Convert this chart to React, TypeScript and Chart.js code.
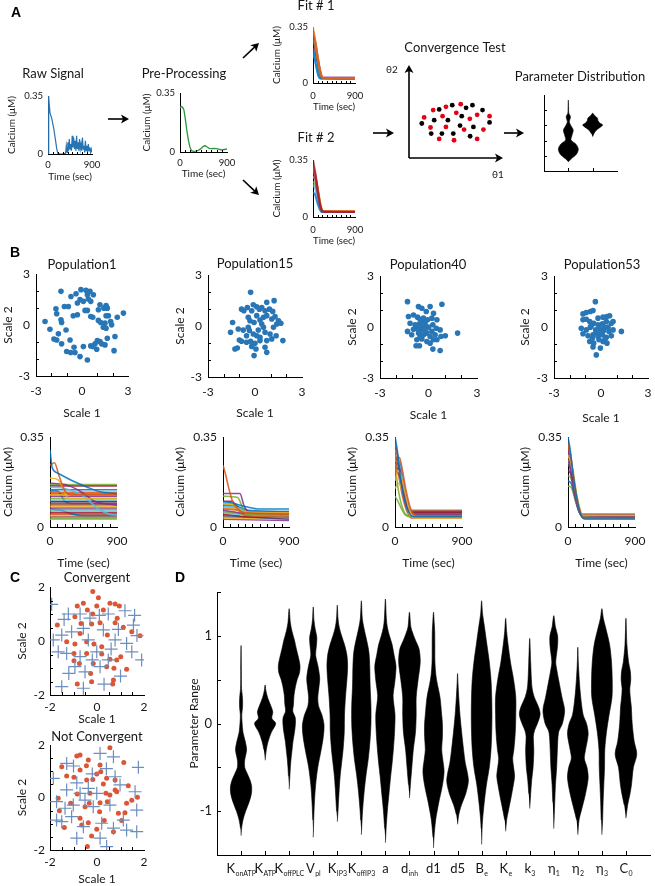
import React, { useEffect, useMemo, useRef } from 'react';
import { Chart, registerables } from 'chart.js';

Chart.register(...registerables);

const FONT = 'Lato, "Noto Sans", "DejaVu Sans", sans-serif';
const INK = '#161616';
const PALETTE = ['#0072BD', '#D95319', '#EDB120', '#7E2F8E', '#77AC30', '#4DBEEE', '#A2142F'];

// ---------------- Panel A data ----------------
const rawTime = [0, 8, 20, 40, 60, 80, 100, 120, 140, 160, 180, 200, 240, 300, 360, 375, 390, 405, 420, 435, 450, 465, 480, 495, 510, 525, 540, 555, 570, 585, 600, 615, 630, 645, 660, 675, 690, 705, 720, 735, 750, 765, 780, 795, 810, 825, 840, 855, 870, 885, 900];
const rawCalcium = [0.0, 0.35, 0.34, 0.25, 0.23, 0.21, 0.18, 0.15, 0.11, 0.07, 0.03, 0.005, 0, 0, 0.005, 0.05, 0.01, 0.07, 0.02, 0.09, 0.03, 0.06, 0.02, 0.11, 0.04, 0.10, 0.03, 0.08, 0.02, 0.11, 0.03, 0.07, 0.02, 0.09, 0.03, 0.06, 0.02, 0.10, 0.03, 0.05, 0.01, 0.08, 0.02, 0.05, 0.01, 0.06, 0.02, 0.04, 0.01, 0.03, 0.01];
const preTime = [0, 20, 50, 75, 100, 130, 160, 190, 220, 260, 300, 350, 400, 440, 480, 520, 560, 600, 650, 700, 800, 900];
const preCalcium = [0.26, 0.27, 0.265, 0.25, 0.2, 0.13, 0.07, 0.03, 0.008, 0.004, 0.005, 0.01, 0.02, 0.032, 0.038, 0.03, 0.022, 0.02, 0.022, 0.02, 0.012, 0.018];

const fit1Runs = [
  [[0, 0.33], [50, 0.26], [100, 0.16], [150, 0.08], [200, 0.035], [250, 0.03], [900, 0.03]],
  [[0, 0.35], [40, 0.28], [90, 0.18], [140, 0.09], [190, 0.04], [240, 0.03], [900, 0.03]],
  [[0, 0.3], [60, 0.24], [110, 0.15], [160, 0.07], [210, 0.035], [900, 0.035]],
  [[0, 0.2], [30, 0.16], [70, 0.1], [110, 0.05], [150, 0.03], [900, 0.025]],
  [[0, 0.18], [40, 0.15], [80, 0.09], [120, 0.04], [160, 0.025], [900, 0.025]],
  [[0, 0.28], [60, 0.22], [120, 0.12], [170, 0.05], [220, 0.03], [900, 0.03]],
  [[0, 0.26], [50, 0.21], [110, 0.12], [160, 0.05], [210, 0.03], [900, 0.03]],
  [[0, 0.22], [40, 0.18], [90, 0.11], [130, 0.05], [170, 0.03], [900, 0.03]],
];
const fit1Colors = ['#D95319', '#EDB120', '#7E2F8E', '#0072BD', '#4DBEEE', '#77AC30', '#A2142F', '#0072BD'];
const fit2Runs = [
  [[0, 0.35], [50, 0.27], [100, 0.17], [150, 0.08], [200, 0.035], [250, 0.03], [900, 0.03]],
  [[0, 0.3], [60, 0.24], [120, 0.14], [170, 0.06], [220, 0.035], [900, 0.035]],
  [[0, 0.28], [50, 0.23], [100, 0.14], [150, 0.07], [200, 0.035], [900, 0.03]],
  [[0, 0.25], [60, 0.22], [120, 0.14], [180, 0.06], [230, 0.035], [900, 0.035]],
  [[0, 0.15], [40, 0.14], [90, 0.09], [140, 0.05], [180, 0.03], [900, 0.03]],
  [[0, 0.22], [60, 0.19], [120, 0.12], [170, 0.06], [220, 0.03], [900, 0.03]],
  [[0, 0.2], [50, 0.17], [100, 0.1], [150, 0.05], [190, 0.03], [900, 0.03]],
  [[0, 0.32], [50, 0.26], [110, 0.16], [160, 0.07], [210, 0.035], [900, 0.035]],
];
const fit2Colors = ['#A2142F', '#D95319', '#7E2F8E', '#EDB120', '#0072BD', '#77AC30', '#4DBEEE', '#D95319'];

const convRed = [[2.57, 5.15], [3.93, 5.5], [5.5, 5.79], [1.61, 4.36], [3.57, 4.5], [5.03, 4.86], [6.47, 4.21], [7.25, 4.64], [8.57, 4.5], [2.29, 3.28], [3.93, 3.34], [5.86, 3.06], [7.92, 3.06], [3.21, 2.05], [4.79, 1.91], [7.25, 2.05]];
const convBlack = [[3.21, 5.22], [4.6, 5.68], [6.07, 5.39], [6.75, 5.68], [7.82, 5.15], [2.68, 4.07], [4.14, 4.07], [5.61, 4.5], [1.36, 3.71], [5.43, 3.49], [6.85, 3.34], [8.57, 3.82], [2.36, 2.63], [3.5, 2.63], [4.71, 2.63], [6.5, 2.34]];

const distViolinA = [[0.6, 0], [0.8, 0.12], [1.1, 0.33], [1.43, 0.41], [1.75, 0.32], [2.04, 0.11], [2.3, 0.14], [2.7, 0.2], [3.0, 0.1], [3.24, 0.04], [3.57, 0.09], [3.8, 0.02], [4.2, 0.01], [4.67, 0]];
const distViolinB = [[2.26, 0], [2.45, 0.05], [2.7, 0.16], [2.9, 0.33], [3.03, 0.41], [3.15, 0.3], [3.3, 0.22], [3.47, 0.2], [3.65, 0.08], [3.8, 0]];

// ---------------- Panel B data ----------------
const pop1Points = [[-1.37, 1.98], [-0.07, 2.08], [0.26, 2.04], [0.52, 1.98], [0.35, 1.78], [0.74, 1.78], [-0.72, 1.68], [-0.39, 1.84], [-0.13, 1.49], [-0.3, 1.29], [0.09, 1.39], [0.41, 1.53], [0.57, 1.39], [-0.89, 1.09], [-1.15, 1.09], [-1.7, 0.95], [1.17, 1.19], [1.57, 1.15], [1.43, 0.99], [1.65, 0.99], [0.2, 0.86], [0.35, 0.86], [1.07, 0.9], [-1.65, 0.66], [-0.57, 0.54], [-0.3, 0.6], [0.57, 0.5], [0.7, 0.46], [1.57, 0.54], [1.72, 0.54], [2.7, 0.7], [2.3, 0.46], [-2.41, 0.21], [-1.37, 0.31], [-1.33, 0.15], [1.07, 0.27], [1.22, 0.15], [1.5, 0.11], [1.87, 0.21], [1.93, 0.01], [1.39, -0.13], [1.57, -0.19], [-2.09, -0.25], [-1.04, -0.29], [-1.54, -0.52], [2.15, -0.68], [-1.83, -0.82], [-1.65, -0.88], [-0.78, -0.88], [1.65, -0.78], [1.0, -0.92], [1.17, -0.97], [0.85, -1.11], [1.28, -1.11], [1.5, -1.17], [-1.33, -1.11], [-0.52, -1.31], [0.09, -1.27], [0.57, -1.23], [0.96, -1.43], [0.7, -1.27], [2.09, -1.51], [-1.0, -1.56], [-0.74, -1.62], [-0.46, -1.62], [-0.13, -1.86], [0.35, -2.06]];
const pop15Points = [[-0.28, 1.98], [0.75, 1.39], [1.22, 1.49], [-0.86, 0.99], [-0.71, 0.9], [-0.49, 1.09], [-0.11, 1.25], [0.11, 1.13], [0.43, 1.09], [0.28, 0.99], [0.64, 0.9], [0.92, 0.99], [1.13, 0.86], [-0.21, 0.9], [-1.43, 0.21], [-1.07, -0.18], [-1.56, -0.37], [-0.43, 0.51], [-0.32, 0.31], [0.11, 0.61], [-0.06, 0.21], [0.32, 0.35], [0.54, 0.51], [0.75, 0.61], [1.07, 0.41], [1.28, 0.55], [1.5, 0.31], [1.65, 0.16], [1.39, 0.12], [1.18, -0.08], [-0.75, -0.24], [-0.36, -0.27], [0.21, -0.24], [0.54, -0.08], [0.64, -0.37], [0.96, -0.47], [1.35, -0.57], [0.32, -0.67], [-1.0, -0.82], [-0.86, -0.9], [-0.54, -0.96], [-0.28, -0.9], [0, -1.02], [0.75, -0.86], [1.07, -0.76], [1.78, -0.86], [-1.28, -1.35], [-1.13, -1.29], [-0.21, -1.2], [0.06, -1.35], [0.64, -1.25], [0.75, -1.55], [-0.06, -1.74], [0.32, -0.86], [-0.43, -0.08], [-0.11, -0.47], [-0.54, -0.57], [0.11, -0.57], [0.43, 0.12]];
const pop40Points = [[-1.3, 1.49], [0.83, 1.34], [-0.62, 1.2], [-0.41, 1.1], [0.1, 1.2], [-0.14, 0.91], [0.31, 0.81], [-1.24, 0.62], [-0.93, 0.71], [-0.68, 0.58], [-0.52, 0.46], [-0.31, 0.52], [-0.06, 0.42], [0.21, 0.52], [0.52, 0.42], [-1.14, 0.22], [-0.83, 0.13], [-0.56, 0.19], [-0.41, -0.01], [-0.21, 0.07], [0, -0.01], [0.27, 0.13], [0.48, -0.07], [0.72, -0.17], [-1.3, -0.26], [-1.04, -0.46], [-0.62, -0.36], [-0.31, -0.46], [-0.14, -0.32], [0.1, -0.56], [0.41, -0.46], [0.77, -0.56], [1.04, -0.52], [1.8, -0.36], [-0.72, -0.75], [-0.41, -0.71], [-0.1, -0.85], [-0.77, -1.1], [-0.56, -1.1], [0.1, -0.95], [0.52, -0.75], [0.27, -1.3], [0.72, -1.38], [-0.93, -0.13], [-0.72, -0.07], [-0.52, -0.2], [-0.27, -0.17], [-0.1, -0.36], [0.21, -0.26], [-0.41, 0.32], [-0.21, 0.26], [-0.52, -0.56], [0.31, -0.75]];
const pop53Points = [[-0.36, 1.49], [-1.15, 0.77], [-0.94, 0.85], [-0.68, 0.91], [-0.51, 0.97], [-0.19, 0.52], [0.13, 0.58], [0.38, 0.62], [0.55, 0.66], [0.77, 0.32], [-1.15, 0.42], [-0.94, 0.46], [-0.72, 0.32], [-0.47, 0.22], [-0.19, 0.13], [0.09, 0.19], [0.34, 0.32], [0.66, 0.22], [0.45, -0.01], [-1.26, -0.07], [-0.94, -0.17], [-0.68, -0.01], [-0.34, -0.17], [-0.09, -0.07], [0.17, -0.21], [0.51, -0.26], [0.77, -0.17], [1.3, -0.26], [-1.15, -0.4], [-0.83, -0.52], [-0.51, -0.46], [-0.19, -0.56], [0.09, -0.46], [0.34, -0.6], [0.66, -0.52], [-0.72, -0.85], [-0.47, -0.95], [-0.13, -0.75], [0.13, -0.85], [0.38, -0.95], [-0.51, -1.18], [-0.04, -1.24], [-0.3, -1.64], [-0.62, 0.07], [-0.3, -0.32], [0.02, -0.36], [0.23, -0.01], [-0.55, -0.66], [0.26, -0.71]];

const pop1Traces = [
  [[0, 0.30], [30, 0.23], [100, 0.21], [300, 0.18], [500, 0.155], [700, 0.135], [900, 0.13]],
  [[0, 0.24], [60, 0.25], [120, 0.2], [200, 0.14], [300, 0.125], [900, 0.125]],
  [[0, 0.19], [100, 0.185], [180, 0.15], [250, 0.11], [900, 0.11]],
  [[0, 0.17], [200, 0.165], [400, 0.14], [600, 0.1], [900, 0.085]],
  [[0, 0.165], [900, 0.165]],
  [[0, 0.155], [200, 0.15], [450, 0.12], [650, 0.07], [800, 0.05], [900, 0.045]],
  [[0, 0.16], [900, 0.16]],
  [[0, 0.145], [900, 0.145]],
  [[0, 0.135], [900, 0.135]],
  [[0, 0.125], [900, 0.125]],
  [[0, 0.12], [900, 0.12]],
  [[0, 0.112], [900, 0.112]],
  [[0, 0.105], [900, 0.105]],
  [[0, 0.098], [900, 0.098]],
  [[0, 0.092], [900, 0.092]],
  [[0, 0.086], [900, 0.086]],
  [[0, 0.08], [900, 0.08]],
  [[0, 0.074], [900, 0.074]],
  [[0, 0.068], [900, 0.068]],
  [[0, 0.062], [900, 0.062]],
  [[0, 0.056], [900, 0.056]],
  [[0, 0.07], [150, 0.065], [300, 0.05], [450, 0.045], [900, 0.045]],
  [[0, 0.05], [900, 0.05]],
  [[0, 0.044], [900, 0.044]],
  [[0, 0.04], [900, 0.04]],
  [[0, 0.034], [900, 0.034]],
  [[0, 0.03], [900, 0.03]],
  [[0, 0.128], [900, 0.128]],
  [[0, 0.14], [100, 0.14], [200, 0.1], [300, 0.09], [900, 0.09]],
  [[0, 0.1], [900, 0.1]],
];
const pop15Traces = [
  [[0, 0.1], [100, 0.095], [300, 0.08], [500, 0.07], [900, 0.07]],
  [[0, 0.24], [30, 0.21], [80, 0.15], [130, 0.1], [200, 0.07], [300, 0.055], [900, 0.05]],
  [[0, 0.09], [150, 0.085], [250, 0.06], [900, 0.055]],
  [[0, 0.13], [230, 0.13], [290, 0.08], [350, 0.06], [900, 0.055]],
  [[0, 0.12], [200, 0.115], [260, 0.08], [320, 0.05], [900, 0.045]],
  [[0, 0.08], [200, 0.075], [350, 0.05], [900, 0.045]],
  [[0, 0.1], [120, 0.1], [250, 0.06], [900, 0.05]],
  [[0, 0.085], [200, 0.08], [350, 0.065], [900, 0.06]],
  [[0, 0.07], [200, 0.065], [300, 0.045], [900, 0.04]],
  [[0, 0.075], [250, 0.07], [350, 0.05], [900, 0.045]],
  [[0, 0.065], [250, 0.055], [900, 0.04]],
  [[0, 0.06], [300, 0.05], [900, 0.04]],
  [[0, 0.055], [900, 0.035]],
  [[0, 0.05], [300, 0.04], [900, 0.035]],
  [[0, 0.045], [900, 0.03]],
  [[0, 0.04], [900, 0.035]],
  [[0, 0.035], [900, 0.03]],
  [[0, 0.03], [900, 0.025]],
  [[0, 0.09], [180, 0.085], [280, 0.055], [900, 0.05]],
  [[0, 0.095], [100, 0.09], [250, 0.065], [400, 0.06], [900, 0.06]],
];
const pop40Traces = [
  [[0, 0.35], [30, 0.3], [60, 0.22], [100, 0.14], [150, 0.08], [200, 0.05], [250, 0.04], [900, 0.04]],
  [[0, 0.2], [30, 0.26], [60, 0.27], [100, 0.22], [150, 0.14], [200, 0.08], [250, 0.05], [300, 0.045], [900, 0.045]],
  [[0, 0.18], [40, 0.22], [80, 0.2], [130, 0.14], [180, 0.08], [230, 0.045], [280, 0.035], [900, 0.035]],
  [[0, 0.25], [50, 0.24], [100, 0.17], [150, 0.1], [200, 0.06], [250, 0.05], [900, 0.05]],
  [[0, 0.3], [20, 0.2], [60, 0.12], [120, 0.06], [200, 0.04], [900, 0.04]],
  [[0, 0.24], [40, 0.26], [80, 0.22], [130, 0.14], [180, 0.08], [230, 0.05], [900, 0.05]],
  [[0, 0.28], [40, 0.25], [90, 0.17], [140, 0.1], [200, 0.06], [260, 0.055], [900, 0.055]],
  [[0, 0.26], [60, 0.25], [110, 0.18], [160, 0.1], [220, 0.06], [280, 0.06], [900, 0.06]],
  [[0, 0.33], [30, 0.28], [80, 0.2], [140, 0.11], [200, 0.065], [900, 0.065]],
  [[0, 0.15], [50, 0.17], [100, 0.14], [160, 0.08], [220, 0.04], [900, 0.04]],
  [[0, 0.22], [60, 0.2], [120, 0.13], [180, 0.07], [240, 0.05], [900, 0.05]],
  [[0, 0.12], [40, 0.1], [90, 0.07], [150, 0.045], [900, 0.045]],
  [[0, 0.3], [50, 0.27], [100, 0.2], [150, 0.12], [200, 0.07], [260, 0.045], [900, 0.045]],
  [[0, 0.32], [40, 0.27], [90, 0.19], [150, 0.1], [210, 0.06], [900, 0.06]],
  [[0, 0.23], [70, 0.22], [120, 0.15], [170, 0.09], [230, 0.055], [900, 0.055]],
  [[0, 0.28], [50, 0.2], [100, 0.12], [160, 0.06], [220, 0.035], [900, 0.035]],
];
const pop53Traces = [
  [[0, 0.35], [30, 0.3], [70, 0.2], [120, 0.11], [170, 0.05], [210, 0.035], [900, 0.035]],
  [[0, 0.33], [40, 0.27], [90, 0.16], [140, 0.08], [190, 0.04], [230, 0.03], [900, 0.03]],
  [[0, 0.28], [50, 0.24], [100, 0.15], [150, 0.08], [200, 0.045], [900, 0.045]],
  [[0, 0.3], [30, 0.22], [80, 0.14], [130, 0.08], [180, 0.045], [900, 0.04]],
  [[0, 0.2], [40, 0.19], [90, 0.13], [140, 0.07], [190, 0.04], [900, 0.04]],
  [[0, 0.25], [60, 0.22], [110, 0.13], [160, 0.06], [210, 0.035], [900, 0.035]],
  [[0, 0.22], [50, 0.2], [100, 0.12], [150, 0.06], [200, 0.04], [900, 0.04]],
  [[0, 0.18], [40, 0.17], [90, 0.12], [140, 0.065], [190, 0.045], [900, 0.045]],
  [[0, 0.32], [30, 0.25], [70, 0.17], [120, 0.09], [170, 0.05], [900, 0.05]],
  [[0, 0.26], [60, 0.23], [120, 0.12], [180, 0.05], [220, 0.03], [900, 0.03]],
  [[0, 0.24], [50, 0.22], [100, 0.14], [160, 0.06], [210, 0.04], [900, 0.04]],
  [[0, 0.16], [50, 0.15], [100, 0.1], [150, 0.06], [200, 0.04], [900, 0.04]],
  [[0, 0.3], [40, 0.26], [90, 0.16], [140, 0.08], [190, 0.045], [900, 0.045]],
  [[0, 0.27], [50, 0.23], [100, 0.14], [150, 0.07], [200, 0.035], [900, 0.035]],
];

// ---------------- Panel C data ----------------
const convergentDots = [[-0.18, 1.83], [0.06, 1.6], [-0.58, 1.4], [-0.84, 1.3], [-0.01, 1.3], [0.55, 1.4], [0.77, 1.37], [0.95, 1.3], [-0.41, 1.15], [-0.18, 1.0], [0.27, 1.15], [-0.94, 0.9], [0.86, 0.84], [-1.69, 0.59], [-0.68, 0.65], [-0.23, 0.63], [0.13, 0.68], [0.77, 0.68], [1.12, 0.51], [1.48, 0.34], [1.83, 0.19], [-1.29, -0.03], [-0.94, -0.11], [-0.44, -0.03], [-0.13, -0.11], [0.2, -0.21], [-0.98, -0.46], [-0.44, -0.46], [0.2, -0.48], [0.55, -0.68], [0.84, -0.7], [1.01, -0.58], [-0.98, -0.73], [-0.75, -0.83], [-0.16, -0.83], [0.41, -0.95], [0.72, -1.01], [1.26, -1.05], [-0.27, -1.2], [-0.23, -1.51], [0.7, -1.44], [0.67, -1.59], [-0.84, -1.59], [0.44, 0.22], [-0.72, 0.28]];
const convergentCrosses = [[-1.93, 1.36], [-1.22, 1.0], [-0.72, 1.0], [0.48, 1.0], [1.19, 1.12], [-1.08, 0.34], [-1.5, 0.22], [-1.86, 0.04], [-0.58, 0.47], [0.27, 0.41], [1.55, 0.59], [0.77, 0.04], [1.26, -0.09], [-1.65, -0.4], [-1.29, -0.46], [-0.72, -0.58], [-0.01, -0.4], [1.48, -0.4], [1.9, -0.7], [-0.94, -0.95], [0.13, -0.95], [-0.51, -1.14], [-1.5, -1.69], [-0.58, -1.75], [0.48, -0.7], [-0.37, 0.04], [0.91, 0.43], [0.1, 0.95], [-0.3, 0.85], [1.6, 0.95], [-1.4, 0.8], [0.6, -0.3], [-0.2, -0.7], [1.0, -1.3], [-1.2, -1.2], [0.3, -1.6], [1.7, 0.2]];
const notConvDots = [[0.55, 1.9], [-0.86, 1.58], [-0.72, 1.62], [-0.37, 1.43], [-1.5, 1.17], [1.14, 1.33], [-0.45, 1.21], [-0.72, 1.05], [0.13, 1.24], [-0.01, 0.9], [0.16, 0.98], [-1.29, 0.82], [-0.98, 0.77], [-0.44, 0.67], [-0.18, 0.69], [0.41, 0.73], [0.77, 0.67], [1.33, 0.45], [0.27, 0.51], [0.77, 0.29], [0.84, 0.22], [-0.84, 0.13], [-0.3, 0.16], [0.38, 0.16], [-1.65, -0.03], [1.48, -0.1], [1.72, 0.01], [-1.12, -0.22], [-0.33, -0.22], [0.13, -0.2], [0.44, -0.16], [1.26, -0.22], [-1.6, -0.5], [0.11, -0.54], [0.91, -0.6], [1.19, -0.58], [-0.72, -0.79], [0.31, -0.88], [1.05, -0.88], [-1.39, -1.14], [-0.37, -0.96], [-0.65, -1.05], [-0.01, -1.21], [0.7, -1.3], [-0.23, -1.47], [-0.41, -1.87], [0.55, 0.1], [-0.51, -0.35]];
const notConvCrosses = [[-1.29, 1.3], [0.13, 1.68], [0.7, 1.55], [1.76, 1.15], [-1.86, 0.73], [-1.29, 0.29], [-0.86, 0.56], [-0.37, 0.35], [-0.01, 0.16], [0.77, 0.79], [0.98, 0.48], [1.62, 0.22], [-1.72, -0.16], [-1.36, -0.41], [-1.01, -0.29], [-0.51, -0.1], [-0.16, -0.35], [0.55, -0.29], [1.69, -0.48], [-1.72, -0.86], [-1.08, -0.73], [-0.58, -1.11], [0.2, -0.98], [0.7, -1.17], [1.26, -1.24], [1.69, -1.3], [-0.86, -1.55], [0.13, -1.55], [0.41, -1.87], [-1.5, -0.92], [-0.72, 0.16], [1.12, -0.86], [-1.0, 1.2], [0.4, 1.1], [-0.2, 0.9]];

// ---------------- Panel D data ----------------
const paramNames = [['K', 'onATP'], ['K', 'ATP'], ['K', 'offPLC'], ['V', 'pl'], ['K', 'IP3'], ['K', 'offIP3'], ['a', ''], ['d', 'inh'], ['d1', ''], ['d5', ''], ['B', 'e'], ['K', 'e'], ['k', '3'], ['η', '1'], ['η', '2'], ['η', '3'], ['C', '0']];
const vKonATP = [[-1.28, 0], [-1.2, 0.02], [-1.1, 0.08], [-1.0, 0.19], [-0.9, 0.33], [-0.8, 0.43], [-0.72, 0.44], [-0.65, 0.38], [-0.58, 0.27], [-0.5, 0.15], [-0.42, 0.15], [-0.3, 0.23], [-0.2, 0.17], [-0.1, 0.08], [0.02, 0.04], [0.1, 0.03], [0.18, 0.06], [0.25, 0.065], [0.32, 0.05], [0.4, 0.02], [0.6, 0.012], [0.89, 0]];
const vKATP = [[-0.42, 0], [-0.3, 0.05], [-0.2, 0.13], [-0.1, 0.26], [0, 0.44], [0.06, 0.28], [0.13, 0.32], [0.2, 0.24], [0.3, 0.1], [0.38, 0.03], [0.44, 0]];
const vKoffPLC = [[-0.75, 0], [-0.6, 0.03], [-0.5, 0.05], [-0.4, 0.08], [-0.3, 0.12], [-0.2, 0.16], [-0.1, 0.22], [0.0, 0.26], [0.07, 0.25], [0.14, 0.15], [0.22, 0.18], [0.32, 0.2], [0.42, 0.26], [0.5, 0.33], [0.58, 0.43], [0.66, 0.45], [0.75, 0.39], [0.85, 0.3], [0.95, 0.22], [1.05, 0.12], [1.15, 0.05], [1.31, 0]];
const vVpl = [[-1.3, 0], [-1.1, 0.02], [-0.9, 0.05], [-0.7, 0.1], [-0.5, 0.19], [-0.3, 0.33], [-0.15, 0.42], [-0.02, 0.45], [0.1, 0.36], [0.2, 0.22], [0.3, 0.19], [0.42, 0.24], [0.52, 0.27], [0.65, 0.2], [0.78, 0.1], [0.88, 0.13], [0.98, 0.15], [1.08, 0.08], [1.18, 0.03], [1.33, 0]];
const vKIP3 = [[-1.12, 0], [-1.0, 0.03], [-0.8, 0.07], [-0.6, 0.12], [-0.45, 0.18], [-0.3, 0.24], [-0.1, 0.29], [0.1, 0.3], [0.3, 0.34], [0.5, 0.4], [0.65, 0.43], [0.78, 0.4], [0.9, 0.3], [1.0, 0.18], [1.1, 0.08], [1.2, 0.03], [1.35, 0]];
const vKoffIP3 = [[-1.27, 0], [-1.1, 0.03], [-1.0, 0.05], [-0.8, 0.11], [-0.6, 0.19], [-0.4, 0.29], [-0.2, 0.36], [0, 0.4], [0.2, 0.4], [0.4, 0.37], [0.5, 0.36], [0.65, 0.35], [0.8, 0.32], [0.9, 0.26], [1.0, 0.18], [1.1, 0.1], [1.2, 0.04], [1.4, 0]];
const vA = [[-1.36, 0], [-1.2, 0.03], [-1.0, 0.08], [-0.8, 0.15], [-0.6, 0.22], [-0.45, 0.28], [-0.3, 0.33], [-0.1, 0.38], [0.1, 0.4], [0.22, 0.35], [0.32, 0.32], [0.45, 0.38], [0.55, 0.42], [0.66, 0.44], [0.78, 0.36], [0.9, 0.28], [1.0, 0.17], [1.1, 0.08], [1.2, 0.04], [1.42, 0]];
const vDinh = [[-0.85, 0], [-0.7, 0.04], [-0.5, 0.1], [-0.3, 0.16], [-0.1, 0.25], [0.1, 0.28], [0.3, 0.28], [0.5, 0.36], [0.62, 0.42], [0.72, 0.45], [0.85, 0.4], [0.95, 0.25], [1.02, 0.15], [1.1, 0.06], [1.27, 0]];
const vD1 = [[-1.42, 0], [-1.3, 0.02], [-1.1, 0.09], [-0.9, 0.22], [-0.72, 0.36], [-0.55, 0.44], [-0.4, 0.38], [-0.3, 0.34], [-0.15, 0.37], [0, 0.37], [0.1, 0.34], [0.3, 0.27], [0.45, 0.16], [0.55, 0.1], [0.7, 0.06], [0.9, 0.055], [1.05, 0.05], [1.15, 0.03], [1.27, 0]];
const vD5 = [[-1.15, 0], [-1.04, 0.05], [-0.93, 0.16], [-0.8, 0.34], [-0.66, 0.45], [-0.55, 0.4], [-0.45, 0.32], [-0.3, 0.25], [-0.1, 0.17], [0.1, 0.1], [0.3, 0.05], [0.45, 0.02], [0.57, 0]];
const vBe = [[-1.38, 0], [-1.2, 0.02], [-1.1, 0.04], [-0.9, 0.11], [-0.7, 0.2], [-0.5, 0.32], [-0.3, 0.39], [-0.1, 0.42], [0.1, 0.43], [0.3, 0.42], [0.5, 0.39], [0.7, 0.32], [0.9, 0.22], [1.1, 0.12], [1.25, 0.04], [1.4, 0]];
const vKe = [[-1.23, 0], [-1.1, 0.04], [-1.0, 0.11], [-0.85, 0.22], [-0.7, 0.32], [-0.6, 0.37], [-0.5, 0.33], [-0.4, 0.29], [-0.3, 0.34], [-0.1, 0.4], [0.1, 0.42], [0.3, 0.42], [0.5, 0.33], [0.7, 0.2], [0.9, 0.1], [1.05, 0.04], [1.2, 0]];
const vK3 = [[-0.97, 0], [-0.8, 0.04], [-0.65, 0.08], [-0.5, 0.14], [-0.3, 0.17], [-0.15, 0.15], [-0.08, 0.2], [0, 0.32], [0.1, 0.43], [0.18, 0.38], [0.3, 0.19], [0.4, 0.1], [0.5, 0.07], [0.7, 0.04], [0.97, 0]];
const vEta1 = [[-1.2, 0], [-0.9, 0.04], [-0.7, 0.07], [-0.5, 0.12], [-0.3, 0.15], [-0.1, 0.2], [0, 0.36], [0.15, 0.45], [0.3, 0.34], [0.5, 0.2], [0.62, 0.12], [0.7, 0.08], [0.8, 0.12], [0.9, 0.16], [1.0, 0.16], [1.1, 0.07], [1.23, 0]];
const vEta2 = [[-1.27, 0], [-1.1, 0.05], [-1.0, 0.14], [-0.8, 0.32], [-0.62, 0.43], [-0.5, 0.38], [-0.4, 0.27], [-0.3, 0.32], [-0.12, 0.43], [0, 0.36], [0.1, 0.22], [0.3, 0.12], [0.5, 0.06], [0.7, 0.02], [0.87, 0]];
const vEta3 = [[-1.27, 0], [-1.1, 0.03], [-0.9, 0.05], [-0.7, 0.08], [-0.5, 0.11], [-0.3, 0.12], [-0.1, 0.19], [0.1, 0.3], [0.3, 0.42], [0.5, 0.43], [0.7, 0.4], [0.9, 0.32], [1.1, 0.15], [1.2, 0.06], [1.31, 0]];
const vC0 = [[-1.08, 0], [-0.93, 0.07], [-0.8, 0.17], [-0.7, 0.23], [-0.5, 0.31], [-0.35, 0.45], [-0.2, 0.34], [0, 0.26], [0.2, 0.22], [0.3, 0.18], [0.4, 0.16], [0.5, 0.2], [0.6, 0.18], [0.7, 0.11], [0.9, 0.04], [1.2, 0]];
const violinProfiles = [vKonATP, vKATP, vKoffPLC, vVpl, vKIP3, vKoffIP3, vA, vDinh, vD1, vD5, vBe, vKe, vK3, vEta1, vEta2, vEta3, vC0];

const minorTime = [100, 200, 300, 400, 500, 600, 700, 800];
const scaleTicks3 = [-2, -1, 1, 2];
const scaleTicks2 = [-1.5, -1, -0.5, 0.5, 1, 1.5];
const rangeTicks = [-1.5, -1, -0.5, 0, 0.5, 1, 1.5];

// ---------------- helpers ----------------
function rgba(hex: string, a: number) {
  const n = parseInt(hex.slice(1), 16);
  return `rgba(${(n >> 16) & 255},${(n >> 8) & 255},${n & 255},${a})`;
}

function traceSets(traces: number[][][], colors: string[] | null, alpha: number, width: number) {
  return traces.map((tr, i) => ({
    data: tr.map(([x, y]) => ({ x, y })),
    showLine: true,
    borderColor: rgba(colors ? colors[i % colors.length] : PALETTE[i % PALETTE.length], alpha),
    borderWidth: width,
    pointRadius: 0,
    fill: false,
    cubicInterpolationMode: 'monotone',
  }));
}

function seriesSet(xs: number[], ys: number[], color: string, width: number) {
  return {
    data: xs.map((x, i) => ({ x, y: ys[i] })),
    showLine: true,
    borderColor: color,
    borderWidth: width,
    pointRadius: 0,
    fill: false,
    tension: 0,
  };
}

function pointSet(pts: number[][], color: string, radius: number, style = 'circle', borderWidth = 0) {
  return {
    data: pts.map(([x, y]) => ({ x, y })),
    showLine: false,
    pointStyle: style,
    pointRadius: radius,
    backgroundColor: color,
    borderColor: color,
    borderWidth,
  };
}

function violinSet(center: number, prof: number[][]) {
  const right = prof.map(([y, w]) => ({ x: center + w, y }));
  const left = prof.slice().reverse().map(([y, w]) => ({ x: center - w, y }));
  if (prof[prof.length - 1][1] === 0) left.shift();
  if (prof[0][1] === 0) left.pop();
  return {
    data: right.concat(left),
    showLine: true,
    fill: 'shape',
    backgroundColor: '#000',
    borderColor: '#000',
    borderWidth: 0.6,
    pointRadius: 0,
    tension: 0.3,
  };
}

function innerTicksPlugin(xs: number[], ys: number[], len = 3) {
  return {
    id: 'innerTicks',
    afterDatasetsDraw(chart: any) {
      const { ctx, chartArea, scales } = chart;
      ctx.save();
      ctx.strokeStyle = '#000';
      ctx.lineWidth = 1;
      ctx.beginPath();
      for (const v of xs) {
        const p = Math.round(scales.x.getPixelForValue(v)) + 0.5;
        ctx.moveTo(p, chartArea.bottom);
        ctx.lineTo(p, chartArea.bottom - len);
      }
      for (const v of ys) {
        const p = Math.round(scales.y.getPixelForValue(v)) + 0.5;
        ctx.moveTo(chartArea.left, p);
        ctx.lineTo(chartArea.left + len, p);
      }
      ctx.stroke();
      ctx.restore();
    },
  };
}

function captionPlugin(text: string, x: number, y: number, size: number) {
  return {
    id: 'caption',
    afterDraw(chart: any) {
      const ctx = chart.ctx;
      ctx.save();
      ctx.font = `${size}px ${FONT}`;
      ctx.fillStyle = INK;
      ctx.textAlign = 'center';
      ctx.textBaseline = 'middle';
      ctx.fillText(text, x, y);
      ctx.restore();
    },
  };
}

function arrowAxesPlugin() {
  return {
    id: 'arrowAxes',
    beforeDatasetsDraw(chart: any) {
      const { ctx, chartArea: { left, right, top, bottom } } = chart;
      ctx.save();
      ctx.strokeStyle = '#000';
      ctx.fillStyle = '#000';
      ctx.lineWidth = 1.6;
      ctx.beginPath();
      ctx.moveTo(left, bottom);
      ctx.lineTo(right - 5, bottom);
      ctx.moveTo(left, bottom);
      ctx.lineTo(left, top + 5);
      ctx.stroke();
      ctx.beginPath();
      ctx.moveTo(right, bottom);
      ctx.lineTo(right - 8, bottom - 4.5);
      ctx.lineTo(right - 6, bottom);
      ctx.lineTo(right - 8, bottom + 4.5);
      ctx.closePath();
      ctx.fill();
      ctx.beginPath();
      ctx.moveTo(left, top);
      ctx.lineTo(left - 4.5, top + 8);
      ctx.lineTo(left, top + 6);
      ctx.lineTo(left + 4.5, top + 8);
      ctx.closePath();
      ctx.fill();
      ctx.font = `10px ${FONT}`;
      ctx.textAlign = 'center';
      ctx.textBaseline = 'middle';
      ctx.fillStyle = INK;
      ctx.fillText('θ2', left - 17, top + 5);
      ctx.fillText('θ1', right - 5, bottom + 17);
      ctx.restore();
    },
  };
}

function subLabelPlugin(names: string[][], size: number, subSize: number, dy: number) {
  return {
    id: 'subLabels',
    afterDraw(chart: any) {
      const { ctx, chartArea, scales } = chart;
      ctx.save();
      ctx.fillStyle = INK;
      ctx.textBaseline = 'alphabetic';
      ctx.textAlign = 'left';
      names.forEach(([main, sub], i) => {
        const cx = scales.x.getPixelForValue(i + 1);
        ctx.font = `${size}px ${FONT}`;
        const w1 = ctx.measureText(main).width;
        ctx.font = `${subSize}px ${FONT}`;
        const w2 = sub ? ctx.measureText(sub).width : 0;
        const x0 = cx - (w1 + w2) / 2;
        const by = chartArea.bottom + dy;
        ctx.font = `${size}px ${FONT}`;
        ctx.fillText(main, x0, by);
        if (sub) {
          ctx.font = `${subSize}px ${FONT}`;
          ctx.fillText(sub, x0 + w1 + 0.3, by + 2.5);
        }
      });
      ctx.restore();
    },
  };
}

type Ax = { min: number; max: number; ticks: number[]; size?: number; pad?: number; title?: string; titleSize?: number; hideLabels?: boolean; hidden?: boolean };
type Fr = { x0: number; y0: number; x1: number; y1: number; yTitleX?: number; xTitleY?: number; ys?: number; xs?: number; L?: number; B?: number; T?: number; R?: number; title?: { text: string; cx: number; cy: number; size: number } };

function axisCfg(which: 'x' | 'y', a: Ax, fixed: number, titlePad: number) {
  if (a.hidden) return { type: 'linear', display: false, min: a.min, max: a.max };
  return {
    type: 'linear',
    position: which === 'x' ? 'bottom' : 'left',
    min: a.min,
    max: a.max,
    border: { display: true, color: '#000', width: 1 },
    grid: { display: false, drawTicks: false },
    ticks: {
      display: !a.hideLabels,
      font: { family: FONT, size: a.size ?? 12 },
      color: INK,
      padding: a.pad ?? 4,
      autoSkip: false,
      maxRotation: 0,
      minRotation: 0,
      callback: (v: any) => String(v),
    },
    afterBuildTicks: (s: any) => {
      s.ticks = a.ticks.map((v) => ({ value: v }));
    },
    afterFit: (s: any) => {
      if (which === 'x') s.height = fixed;
      else s.width = fixed;
      s.paddingLeft = 0;
      s.paddingRight = 0;
      s.paddingTop = 0;
      s.paddingBottom = 0;
    },
    title: a.title
      ? { display: true, text: a.title, font: { family: FONT, size: a.titleSize ?? 12 }, color: INK, padding: { top: titlePad, bottom: titlePad } }
      : { display: false },
  };
}

function makeSpec(f: Fr, datasets: any[], xa: Ax, ya: Ax, extra: any[] = []) {
  const ys = f.ys ?? 12;
  const xs = f.xs ?? 12;
  let left = f.yTitleX != null ? f.yTitleX - ys * 0.6 - 1 : f.x0 - (f.L ?? 30);
  let bottom = f.xTitleY != null ? f.xTitleY + xs * 0.6 + 1 : f.y1 + (f.B ?? 24);
  let top = f.y0 - (f.T ?? 10);
  let right = f.x1 + (f.R ?? 14);
  if (f.title) {
    const half = f.title.text.length * f.title.size * 0.3 + 4;
    top = Math.min(top, f.title.cy - f.title.size);
    left = Math.min(left, f.title.cx - half);
    right = Math.max(right, f.title.cx + half);
  }
  left = Math.floor(left);
  top = Math.floor(top);
  right = Math.ceil(right);
  bottom = Math.ceil(bottom);
  const yW = f.x0 - left;
  const xH = bottom - f.y1;
  const yTitlePad = f.yTitleX != null ? f.yTitleX - left - ys * 0.6 : 1;
  const xTitlePad = f.xTitleY != null ? bottom - f.xTitleY - xs * 0.6 : 1;
  const plugins: any[] = [...extra];
  if (f.title) plugins.push(captionPlugin(f.title.text, f.title.cx - left, f.title.cy - top, f.title.size));
  const config: any = {
    type: 'scatter',
    data: { datasets },
    options: {
      responsive: false,
      animation: false,
      events: [],
      layout: {
        padding: {
          top: f.y0 - top,
          right: right - f.x1,
          left: ya.hidden ? yW : 0,
          bottom: xa.hidden ? xH : 0,
        },
      },
      plugins: { legend: { display: false }, tooltip: { enabled: false }, title: { display: false } },
      scales: {
        x: axisCfg('x', { ...xa, titleSize: xa.titleSize ?? xs }, xH, xTitlePad),
        y: axisCfg('y', { ...ya, titleSize: ya.titleSize ?? ys }, yW, yTitlePad),
      },
    },
    plugins,
  };
  return { left, top, w: right - left, h: bottom - top, config };
}

const CAL = 'Calcium (μM)';
const TIME = 'Time (sec)';
const SCATTER_BLUE = 'rgb(40,118,182)';
const DOT_RED = 'rgb(218,86,54)';
const CROSS_BLUE = 'rgb(108,142,190)';

function buildSpecs() {
  const specs: any[] = [];
  const smallX: Ax = { min: 0, max: 900, ticks: [0, 900], size: 9.5, pad: 5, title: TIME };
  const smallY: Ax = { min: 0, max: 0.35, ticks: [0, 0.35], size: 9.5, pad: 5, title: CAL };

  // Panel A
  specs.push(makeSpec({ x0: 48, y0: 96, x1: 92, y1: 154, yTitleX: 12, xTitleY: 177, ys: 10, xs: 10, title: { text: 'Raw Signal', cx: 53, cy: 74, size: 13 } },
    [seriesSet(rawTime, rawCalcium, 'rgb(38,116,180)', 1.2)], smallX, smallY, [innerTicksPlugin(minorTime, [], 2)]));
  specs.push(makeSpec({ x0: 180, y0: 93, x1: 227, y1: 152, yTitleX: 147, xTitleY: 174, ys: 10, xs: 10, title: { text: 'Pre-Processing', cx: 184, cy: 74, size: 13 } },
    [seriesSet(preTime, preCalcium, 'rgb(44,150,62)', 1.3)], smallX, smallY, [innerTicksPlugin(minorTime, [], 2)]));
  specs.push(makeSpec({ x0: 313, y0: 27, x1: 355, y1: 83, yTitleX: 277, xTitleY: 107, ys: 10, xs: 10, title: { text: 'Fit # 1', cx: 316, cy: 6, size: 13 } },
    traceSets(fit1Runs, fit1Colors, 0.75, 2), { ...smallX, pad: 7 }, smallY, [innerTicksPlugin(minorTime, [], 2)]));
  specs.push(makeSpec({ x0: 313, y0: 160, x1: 355, y1: 217, yTitleX: 277, xTitleY: 241, ys: 10, xs: 10, title: { text: 'Fit # 2', cx: 316, cy: 138, size: 13 } },
    traceSets(fit2Runs, fit2Colors, 0.75, 2), { ...smallX, pad: 7 }, smallY, [innerTicksPlugin(minorTime, [], 2)]));
  specs.push(makeSpec({ x0: 409, y0: 65, x1: 503, y1: 158, L: 30, B: 26, T: 6, R: 10, title: { text: 'Convergence Test', cx: 455, cy: 48, size: 13 } },
    [pointSet(convBlack, '#000', 2.4), pointSet(convRed, 'rgb(228,0,22)', 2.4)],
    { min: 0, max: 10, ticks: [], hidden: true }, { min: 0, max: 10, ticks: [], hidden: true }, [arrowAxesPlugin()]));
  specs.push(makeSpec({ x0: 544, y0: 95, x1: 617, y1: 171, L: 8, B: 8, T: 6, R: 8, title: { text: 'Parameter Distribution', cx: 580, cy: 77, size: 13 } },
    [violinSet(1, distViolinA), violinSet(2, distViolinB)],
    { min: 0, max: 3, ticks: [], hideLabels: true }, { min: 0, max: 5, ticks: [], hideLabels: true }, [innerTicksPlugin([1, 2], [1, 2, 3, 4], 3)]));

  // Panel B scatter
  const sx: Ax = { min: -3, max: 3, ticks: [-3, 0, 3], size: 12, pad: 8, title: 'Scale 1' };
  const sy: Ax = { min: -3, max: 3, ticks: [-3, 0, 3], size: 12, pad: 6, title: 'Scale 2' };
  const popDefs = [
    { pts: pop1Points, f: { x0: 36, y0: 274, x1: 128, y1: 376, yTitleX: 8, xTitleY: 413, title: { text: 'Population1', cx: 82, cy: 265, size: 13 } } },
    { pts: pop15Points, f: { x0: 208, y0: 275, x1: 302, y1: 377, yTitleX: 180, xTitleY: 413, title: { text: 'Population15', cx: 255, cy: 264, size: 13 } } },
    { pts: pop40Points, f: { x0: 380, y0: 276, x1: 477, y1: 378, yTitleX: 352, xTitleY: 415, title: { text: 'Population40', cx: 428, cy: 265, size: 13 } } },
    { pts: pop53Points, f: { x0: 554, y0: 276, x1: 648, y1: 378, yTitleX: 525, xTitleY: 418, title: { text: 'Population53', cx: 602, cy: 265, size: 13 } } },
  ];
  popDefs.forEach((d) => {
    specs.push(makeSpec(d.f, [pointSet(d.pts, SCATTER_BLUE, 2.8)], sx, sy, [innerTicksPlugin(scaleTicks3, scaleTicks3, 3)]));
  });

  // Panel B traces
  const tx: Ax = { min: 0, max: 900, ticks: [0, 900], size: 12, pad: 7, title: TIME };
  const ty: Ax = { min: 0, max: 0.35, ticks: [0, 0.35], size: 12, pad: 6, title: CAL };
  const traceDefs = [
    { tr: pop1Traces, x0: 50, x1: 117, yt: 8 },
    { tr: pop15Traces, x0: 223, x1: 289, yt: 180 },
    { tr: pop40Traces, x0: 395, x1: 462, yt: 352 },
    { tr: pop53Traces, x0: 568, x1: 635, yt: 525 },
  ];
  traceDefs.forEach((d) => {
    specs.push(makeSpec({ x0: d.x0, y0: 437, x1: d.x1, y1: 527, yTitleX: d.yt, xTitleY: 563, T: 10 },
      traceSets(d.tr, null, 0.85, 1.6), tx, ty, [innerTicksPlugin(minorTime, [], 3)]));
  });

  // Panel C
  const cx: Ax = { min: -2, max: 2, ticks: [-2, 0, 2], size: 12, pad: 5, title: 'Scale 1' };
  const cy: Ax = { min: -2, max: 2, ticks: [-2, 0, 2], size: 12, pad: 5, title: 'Scale 2' };
  specs.push(makeSpec({ x0: 50, y0: 587, x1: 144, y1: 695, yTitleX: 22, xTitleY: 719, title: { text: 'Convergent', cx: 97, cy: 578, size: 13 } },
    [pointSet(convergentCrosses, CROSS_BLUE, 6.5, 'cross', 1.2), pointSet(convergentDots, DOT_RED, 2.5)], cx, cy, [innerTicksPlugin(scaleTicks2, scaleTicks2, 3)]));
  specs.push(makeSpec({ x0: 50, y0: 745, x1: 144, y1: 850, yTitleX: 22, xTitleY: 879, title: { text: 'Not Convergent', cx: 97, cy: 737, size: 13 } },
    [pointSet(notConvCrosses, CROSS_BLUE, 6.5, 'cross', 1.2), pointSet(notConvDots, DOT_RED, 2.5)], cx, cy, [innerTicksPlugin(scaleTicks2, scaleTicks2, 3)]));

  // Panel D
  specs.push(makeSpec({ x0: 217, y0: 592, x1: 650, y1: 855, yTitleX: 194, B: 26, T: 8, R: 4 },
    violinProfiles.map((p, i) => violinSet(i + 1, p)),
    { min: 0, max: 18, ticks: [], hideLabels: true },
    { min: -1.5, max: 1.5, ticks: [-1, 0, 1], size: 13, pad: 5, title: 'Parameter Range', titleSize: 12 },
    [innerTicksPlugin(paramNames.map((_, i) => i + 1), rangeTicks, 4), subLabelPlugin(paramNames, 13, 7, 18)]));

  return specs;
}

const panelArrows = [[108, 119, 129, 119], [243, 58, 259, 43], [243, 180, 259, 195], [373, 133, 394, 133], [504, 133, 524, 133]];
const panelLetters = [['A', 11, 4], ['B', 10, 244], ['C', 10, 569], ['D', 175, 569]];

function Arrow({ a }: { a: number[] }) {
  const [x1, y1, x2, y2] = a;
  const dx = x2 - x1, dy = y2 - y1;
  const L = Math.hypot(dx, dy);
  const ux = dx / L, uy = dy / L;
  const hl = 8, hw = 4.5;
  const bx = x2 - ux * hl, by = y2 - uy * hl;
  const pts = `${x2},${y2} ${bx - uy * hw},${by + ux * hw} ${x2 - ux * (hl - 2)},${y2 - uy * (hl - 2)} ${bx + uy * hw},${by - ux * hw}`;
  return (
    <g>
      <line x1={x1} y1={y1} x2={x2 - ux * 5} y2={y2 - uy * 5} stroke="#000" strokeWidth={1.6} />
      <polygon points={pts} fill="#000" />
    </g>
  );
}

export default function App() {
  const specs = useMemo(buildSpecs, []);
  const refs = useRef<(HTMLCanvasElement | null)[]>([]);
  useEffect(() => {
    const charts = specs.map((s: any, i: number) => new Chart(refs.current[i] as HTMLCanvasElement, s.config));
    return () => charts.forEach((c: any) => c.destroy());
  }, [specs]);
  return (
    <div style={{ position: 'absolute', left: 0, top: 0, width: 655, height: 886, overflow: 'hidden', background: '#fff', fontFamily: FONT }}>
      {specs.map((s: any, i: number) => (
        <canvas
          key={i}
          ref={(el) => { refs.current[i] = el; }}
          width={s.w}
          height={s.h}
          style={{ position: 'absolute', left: s.left, top: s.top, width: s.w, height: s.h }}
        />
      ))}
      <svg width={655} height={886} style={{ position: 'absolute', left: 0, top: 0, pointerEvents: 'none' }}>
        {panelArrows.map((a, i) => <Arrow key={i} a={a} />)}
      </svg>
      {panelLetters.map(([t, x, y]) => (
        <div key={t as string} style={{ position: 'absolute', left: x as number, top: y as number, fontFamily: '"Liberation Sans", Arial, sans-serif', fontWeight: 'bold', fontSize: 14, lineHeight: '16px', color: '#000' }}>{t}</div>
      ))}
    </div>
  );
}
